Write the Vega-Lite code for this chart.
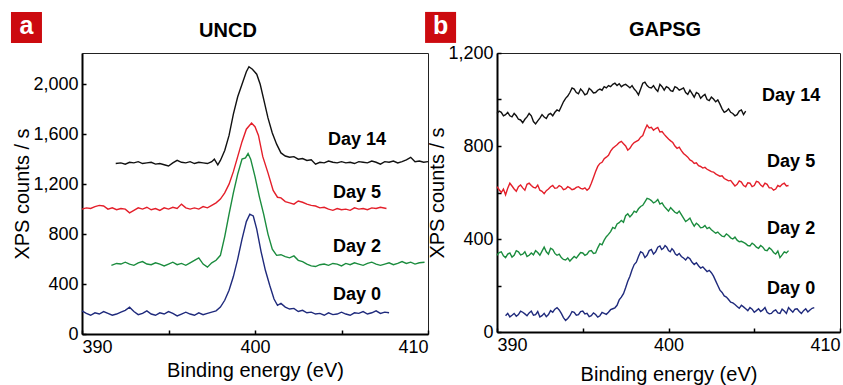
{
  "$schema": "https://vega.github.io/schema/vega-lite/v6.json",
  "padding": {"left": 10, "top": 11, "right": 3, "bottom": 2},
  "background": "white",
  "bounds": "flush",
  "spacing": 69,
  "config": {
    "font": "Liberation Sans",
    "view": {"stroke": "#222", "strokeWidth": 1},
    "axis": {
      "labelFont": "Liberation Sans", "labelFontSize": 18, "labelColor": "#000",
      "titleFont": "Liberation Sans", "titleFontSize": 20, "titleFontWeight": "normal", "titleColor": "#000",
      "domainColor": "#000", "domainWidth": 2, "tickColor": "#000", "tickWidth": 1.5, "tickSize": -4,
      "grid": false, "labelPadding": 8
    }
  },
  "datasets": {
    "labelsA": [
      {"s": "Day 14", "e": 405.9, "v": 1552},
      {"s": "Day 5", "e": 405.9, "v": 1128},
      {"s": "Day 2", "e": 405.9, "v": 696},
      {"s": "Day 0", "e": 405.9, "v": 312}
    ],
    "labelsB": [
      {"s": "Day 14", "e": 407.15, "v": 1015},
      {"s": "Day 5", "e": 407.15, "v": 731},
      {"s": "Day 2", "e": 407.15, "v": 443},
      {"s": "Day 0", "e": 407.15, "v": 185}
    ],
    "curvesA": [
      {"s":"Day 0","e":390.0,"v":185},{"s":"Day 0","e":390.25,"v":165},{"s":"Day 0","e":390.5,"v":150},{"s":"Day 0","e":390.75,"v":170},
      {"s":"Day 0","e":391.0,"v":160},{"s":"Day 0","e":391.25,"v":180},{"s":"Day 0","e":391.5,"v":165},{"s":"Day 0","e":391.75,"v":150},
      {"s":"Day 0","e":392.0,"v":160},{"s":"Day 0","e":392.25,"v":175},{"s":"Day 0","e":392.5,"v":190},{"s":"Day 0","e":392.75,"v":215},
      {"s":"Day 0","e":393.0,"v":180},{"s":"Day 0","e":393.25,"v":155},{"s":"Day 0","e":393.5,"v":165},{"s":"Day 0","e":393.75,"v":185},
      {"s":"Day 0","e":394.0,"v":160},{"s":"Day 0","e":394.25,"v":150},{"s":"Day 0","e":394.5,"v":170},{"s":"Day 0","e":394.75,"v":160},
      {"s":"Day 0","e":395.0,"v":180},{"s":"Day 0","e":395.25,"v":165},{"s":"Day 0","e":395.5,"v":145},{"s":"Day 0","e":395.75,"v":160},
      {"s":"Day 0","e":396.0,"v":175},{"s":"Day 0","e":396.25,"v":160},{"s":"Day 0","e":396.5,"v":150},{"s":"Day 0","e":396.75,"v":170},
      {"s":"Day 0","e":397.0,"v":155},{"s":"Day 0","e":397.25,"v":165},{"s":"Day 0","e":397.5,"v":175},{"s":"Day 0","e":397.75,"v":185},
      {"s":"Day 0","e":398.0,"v":215},{"s":"Day 0","e":398.25,"v":270},{"s":"Day 0","e":398.5,"v":350},{"s":"Day 0","e":398.75,"v":460},
      {"s":"Day 0","e":399.0,"v":600},{"s":"Day 0","e":399.25,"v":760},{"s":"Day 0","e":399.5,"v":900},{"s":"Day 0","e":399.7,"v":960},
      {"s":"Day 0","e":399.9,"v":945},{"s":"Day 0","e":400.1,"v":840},{"s":"Day 0","e":400.35,"v":660},{"s":"Day 0","e":400.6,"v":510},
      {"s":"Day 0","e":400.85,"v":390},{"s":"Day 0","e":401.1,"v":280},{"s":"Day 0","e":401.3,"v":230},{"s":"Day 0","e":401.5,"v":245},
      {"s":"Day 0","e":401.75,"v":215},{"s":"Day 0","e":402.0,"v":200},{"s":"Day 0","e":402.25,"v":205},{"s":"Day 0","e":402.5,"v":180},
      {"s":"Day 0","e":402.75,"v":190},{"s":"Day 0","e":403.0,"v":170},{"s":"Day 0","e":403.25,"v":175},{"s":"Day 0","e":403.5,"v":160},
      {"s":"Day 0","e":403.75,"v":165},{"s":"Day 0","e":404.0,"v":150},{"s":"Day 0","e":404.25,"v":170},{"s":"Day 0","e":404.5,"v":155},
      {"s":"Day 0","e":404.75,"v":160},{"s":"Day 0","e":405.0,"v":175},{"s":"Day 0","e":405.25,"v":160},{"s":"Day 0","e":405.5,"v":150},
      {"s":"Day 0","e":405.75,"v":170},{"s":"Day 0","e":406.0,"v":165},{"s":"Day 0","e":406.25,"v":180},{"s":"Day 0","e":406.5,"v":160},
      {"s":"Day 0","e":406.75,"v":170},{"s":"Day 0","e":407.0,"v":185},{"s":"Day 0","e":407.25,"v":165},{"s":"Day 0","e":407.5,"v":175},
      {"s":"Day 0","e":407.75,"v":170},

      {"s":"Day 2","e":391.7,"v":550},{"s":"Day 2","e":392.0,"v":565},{"s":"Day 2","e":392.25,"v":560},{"s":"Day 2","e":392.5,"v":575},
      {"s":"Day 2","e":392.75,"v":560},{"s":"Day 2","e":393.0,"v":550},{"s":"Day 2","e":393.25,"v":570},{"s":"Day 2","e":393.5,"v":580},
      {"s":"Day 2","e":393.75,"v":560},{"s":"Day 2","e":394.0,"v":555},{"s":"Day 2","e":394.25,"v":570},{"s":"Day 2","e":394.5,"v":560},
      {"s":"Day 2","e":394.75,"v":545},{"s":"Day 2","e":395.0,"v":560},{"s":"Day 2","e":395.25,"v":575},{"s":"Day 2","e":395.5,"v":555},
      {"s":"Day 2","e":395.75,"v":565},{"s":"Day 2","e":396.0,"v":550},{"s":"Day 2","e":396.25,"v":570},{"s":"Day 2","e":396.5,"v":590},
      {"s":"Day 2","e":396.75,"v":610},{"s":"Day 2","e":397.0,"v":560},{"s":"Day 2","e":397.25,"v":535},{"s":"Day 2","e":397.5,"v":570},
      {"s":"Day 2","e":397.75,"v":590},{"s":"Day 2","e":398.0,"v":630},{"s":"Day 2","e":398.25,"v":780},{"s":"Day 2","e":398.5,"v":960},
      {"s":"Day 2","e":398.75,"v":1130},{"s":"Day 2","e":399.0,"v":1280},{"s":"Day 2","e":399.25,"v":1400},{"s":"Day 2","e":399.45,"v":1410},
      {"s":"Day 2","e":399.6,"v":1445},{"s":"Day 2","e":399.75,"v":1400},{"s":"Day 2","e":400.0,"v":1260},{"s":"Day 2","e":400.25,"v":1100},
      {"s":"Day 2","e":400.5,"v":960},{"s":"Day 2","e":400.75,"v":800},{"s":"Day 2","e":401.0,"v":680},{"s":"Day 2","e":401.25,"v":630},
      {"s":"Day 2","e":401.5,"v":635},{"s":"Day 2","e":401.75,"v":620},{"s":"Day 2","e":402.0,"v":610},{"s":"Day 2","e":402.25,"v":625},
      {"s":"Day 2","e":402.5,"v":590},{"s":"Day 2","e":402.75,"v":580},{"s":"Day 2","e":403.0,"v":560},{"s":"Day 2","e":403.25,"v":545},
      {"s":"Day 2","e":403.5,"v":540},{"s":"Day 2","e":403.75,"v":555},{"s":"Day 2","e":404.0,"v":560},{"s":"Day 2","e":404.25,"v":550},
      {"s":"Day 2","e":404.5,"v":565},{"s":"Day 2","e":404.75,"v":560},{"s":"Day 2","e":405.0,"v":545},{"s":"Day 2","e":405.25,"v":565},
      {"s":"Day 2","e":405.5,"v":555},{"s":"Day 2","e":405.75,"v":570},{"s":"Day 2","e":406.0,"v":560},{"s":"Day 2","e":406.25,"v":550},
      {"s":"Day 2","e":406.5,"v":565},{"s":"Day 2","e":406.75,"v":575},{"s":"Day 2","e":407.0,"v":560},{"s":"Day 2","e":407.25,"v":550},
      {"s":"Day 2","e":407.5,"v":560},{"s":"Day 2","e":407.75,"v":570},{"s":"Day 2","e":408.0,"v":555},{"s":"Day 2","e":408.25,"v":565},
      {"s":"Day 2","e":408.5,"v":580},{"s":"Day 2","e":408.75,"v":565},{"s":"Day 2","e":409.0,"v":575},{"s":"Day 2","e":409.25,"v":560},
      {"s":"Day 2","e":409.5,"v":570},{"s":"Day 2","e":409.8,"v":575},

      {"s":"Day 5","e":390.0,"v":1000},{"s":"Day 5","e":390.25,"v":1010},{"s":"Day 5","e":390.5,"v":1005},{"s":"Day 5","e":390.75,"v":1020},
      {"s":"Day 5","e":391.0,"v":1030},{"s":"Day 5","e":391.25,"v":1025},{"s":"Day 5","e":391.5,"v":1000},{"s":"Day 5","e":391.75,"v":1010},
      {"s":"Day 5","e":392.0,"v":995},{"s":"Day 5","e":392.25,"v":1005},{"s":"Day 5","e":392.5,"v":1000},{"s":"Day 5","e":392.75,"v":970},
      {"s":"Day 5","e":393.0,"v":990},{"s":"Day 5","e":393.25,"v":1010},{"s":"Day 5","e":393.5,"v":1000},{"s":"Day 5","e":393.75,"v":1015},
      {"s":"Day 5","e":394.0,"v":995},{"s":"Day 5","e":394.25,"v":1005},{"s":"Day 5","e":394.5,"v":990},{"s":"Day 5","e":394.75,"v":1010},
      {"s":"Day 5","e":395.0,"v":1000},{"s":"Day 5","e":395.25,"v":1015},{"s":"Day 5","e":395.5,"v":1005},{"s":"Day 5","e":395.75,"v":1040},
      {"s":"Day 5","e":396.0,"v":1010},{"s":"Day 5","e":396.25,"v":1000},{"s":"Day 5","e":396.5,"v":1010},{"s":"Day 5","e":396.75,"v":1000},
      {"s":"Day 5","e":397.0,"v":1020},{"s":"Day 5","e":397.25,"v":1010},{"s":"Day 5","e":397.5,"v":1030},{"s":"Day 5","e":397.75,"v":1050},
      {"s":"Day 5","e":398.0,"v":1080},{"s":"Day 5","e":398.25,"v":1130},{"s":"Day 5","e":398.5,"v":1200},{"s":"Day 5","e":398.75,"v":1300},
      {"s":"Day 5","e":399.0,"v":1420},{"s":"Day 5","e":399.25,"v":1540},{"s":"Day 5","e":399.5,"v":1640},{"s":"Day 5","e":399.8,"v":1690},
      {"s":"Day 5","e":400.0,"v":1660},{"s":"Day 5","e":400.2,"v":1590},{"s":"Day 5","e":400.45,"v":1420},{"s":"Day 5","e":400.75,"v":1290},
      {"s":"Day 5","e":401.05,"v":1150},{"s":"Day 5","e":401.3,"v":1095},{"s":"Day 5","e":401.5,"v":1090},{"s":"Day 5","e":401.75,"v":1060},
      {"s":"Day 5","e":402.0,"v":1050},{"s":"Day 5","e":402.25,"v":1040},{"s":"Day 5","e":402.5,"v":1065},{"s":"Day 5","e":402.75,"v":1055},
      {"s":"Day 5","e":403.0,"v":1040},{"s":"Day 5","e":403.25,"v":1030},{"s":"Day 5","e":403.5,"v":1025},{"s":"Day 5","e":403.75,"v":1010},
      {"s":"Day 5","e":404.0,"v":1015},{"s":"Day 5","e":404.25,"v":1000},{"s":"Day 5","e":404.5,"v":990},{"s":"Day 5","e":404.75,"v":1005},
      {"s":"Day 5","e":405.0,"v":995},{"s":"Day 5","e":405.25,"v":1000},{"s":"Day 5","e":405.5,"v":990},{"s":"Day 5","e":405.75,"v":1010},
      {"s":"Day 5","e":406.0,"v":1000},{"s":"Day 5","e":406.25,"v":1005},{"s":"Day 5","e":406.5,"v":995},{"s":"Day 5","e":406.75,"v":1010},
      {"s":"Day 5","e":407.0,"v":1005},{"s":"Day 5","e":407.25,"v":1015},{"s":"Day 5","e":407.6,"v":1005},

      {"s":"Day 14","e":391.95,"v":1365},{"s":"Day 14","e":392.25,"v":1370},{"s":"Day 14","e":392.5,"v":1360},{"s":"Day 14","e":392.75,"v":1375},
      {"s":"Day 14","e":393.0,"v":1370},{"s":"Day 14","e":393.25,"v":1380},{"s":"Day 14","e":393.5,"v":1365},{"s":"Day 14","e":393.75,"v":1370},
      {"s":"Day 14","e":394.0,"v":1375},{"s":"Day 14","e":394.25,"v":1360},{"s":"Day 14","e":394.5,"v":1365},{"s":"Day 14","e":394.75,"v":1355},
      {"s":"Day 14","e":395.0,"v":1345},{"s":"Day 14","e":395.25,"v":1370},{"s":"Day 14","e":395.5,"v":1390},{"s":"Day 14","e":395.75,"v":1375},
      {"s":"Day 14","e":396.0,"v":1370},{"s":"Day 14","e":396.25,"v":1380},{"s":"Day 14","e":396.5,"v":1365},{"s":"Day 14","e":396.75,"v":1375},
      {"s":"Day 14","e":397.0,"v":1370},{"s":"Day 14","e":397.25,"v":1365},{"s":"Day 14","e":397.5,"v":1380},{"s":"Day 14","e":397.65,"v":1400},
      {"s":"Day 14","e":397.85,"v":1355},{"s":"Day 14","e":398.0,"v":1390},{"s":"Day 14","e":398.25,"v":1470},{"s":"Day 14","e":398.5,"v":1590},
      {"s":"Day 14","e":398.75,"v":1760},{"s":"Day 14","e":399.0,"v":1900},{"s":"Day 14","e":399.25,"v":2000},{"s":"Day 14","e":399.5,"v":2100},
      {"s":"Day 14","e":399.65,"v":2140},{"s":"Day 14","e":399.85,"v":2120},{"s":"Day 14","e":400.1,"v":2080},{"s":"Day 14","e":400.3,"v":2000},
      {"s":"Day 14","e":400.5,"v":1880},{"s":"Day 14","e":400.75,"v":1730},{"s":"Day 14","e":401.0,"v":1610},{"s":"Day 14","e":401.25,"v":1520},
      {"s":"Day 14","e":401.5,"v":1450},{"s":"Day 14","e":401.75,"v":1425},{"s":"Day 14","e":402.0,"v":1415},{"s":"Day 14","e":402.25,"v":1420},
      {"s":"Day 14","e":402.5,"v":1400},{"s":"Day 14","e":402.75,"v":1405},{"s":"Day 14","e":403.0,"v":1390},{"s":"Day 14","e":403.25,"v":1395},
      {"s":"Day 14","e":403.5,"v":1360},{"s":"Day 14","e":403.75,"v":1375},{"s":"Day 14","e":404.0,"v":1370},{"s":"Day 14","e":404.25,"v":1385},
      {"s":"Day 14","e":404.5,"v":1375},{"s":"Day 14","e":404.75,"v":1370},{"s":"Day 14","e":405.0,"v":1380},{"s":"Day 14","e":405.25,"v":1370},
      {"s":"Day 14","e":405.5,"v":1375},{"s":"Day 14","e":405.75,"v":1365},{"s":"Day 14","e":406.0,"v":1380},{"s":"Day 14","e":406.25,"v":1375},
      {"s":"Day 14","e":406.5,"v":1370},{"s":"Day 14","e":406.75,"v":1385},{"s":"Day 14","e":407.0,"v":1375},{"s":"Day 14","e":407.25,"v":1360},
      {"s":"Day 14","e":407.5,"v":1380},{"s":"Day 14","e":407.75,"v":1375},{"s":"Day 14","e":408.0,"v":1385},{"s":"Day 14","e":408.25,"v":1370},
      {"s":"Day 14","e":408.5,"v":1380},{"s":"Day 14","e":408.75,"v":1395},{"s":"Day 14","e":409.0,"v":1415},{"s":"Day 14","e":409.25,"v":1380},
      {"s":"Day 14","e":409.5,"v":1385},{"s":"Day 14","e":409.75,"v":1375},{"s":"Day 14","e":410.0,"v":1380}
    ],
    "curvesB": [
      {"s":"Day 0","e":390.5,"v":70},{"s":"Day 0","e":390.625,"v":80},{"s":"Day 0","e":390.75,"v":65},{"s":"Day 0","e":390.875,"v":72},
      {"s":"Day 0","e":391.0,"v":80},{"s":"Day 0","e":391.125,"v":68},{"s":"Day 0","e":391.25,"v":75},{"s":"Day 0","e":391.375,"v":90},
      {"s":"Day 0","e":391.5,"v":85},{"s":"Day 0","e":391.625,"v":78},{"s":"Day 0","e":391.75,"v":70},{"s":"Day 0","e":391.875,"v":82},
      {"s":"Day 0","e":392.0,"v":90},{"s":"Day 0","e":392.125,"v":72},{"s":"Day 0","e":392.25,"v":75},{"s":"Day 0","e":392.375,"v":88},
      {"s":"Day 0","e":392.5,"v":65},{"s":"Day 0","e":392.625,"v":70},{"s":"Day 0","e":392.75,"v":80},{"s":"Day 0","e":392.875,"v":66},
      {"s":"Day 0","e":393.0,"v":75},{"s":"Day 0","e":393.125,"v":92},{"s":"Day 0","e":393.25,"v":85},{"s":"Day 0","e":393.375,"v":98},
      {"s":"Day 0","e":393.5,"v":105},{"s":"Day 0","e":393.625,"v":95},{"s":"Day 0","e":393.75,"v":80},{"s":"Day 0","e":393.875,"v":62},
      {"s":"Day 0","e":394.0,"v":50},{"s":"Day 0","e":394.125,"v":58},{"s":"Day 0","e":394.25,"v":70},{"s":"Day 0","e":394.375,"v":88},
      {"s":"Day 0","e":394.5,"v":85},{"s":"Day 0","e":394.625,"v":72},{"s":"Day 0","e":394.75,"v":75},{"s":"Day 0","e":394.875,"v":88},
      {"s":"Day 0","e":395.0,"v":90},{"s":"Day 0","e":395.125,"v":78},{"s":"Day 0","e":395.25,"v":80},{"s":"Day 0","e":395.375,"v":66},
      {"s":"Day 0","e":395.5,"v":70},{"s":"Day 0","e":395.625,"v":82},{"s":"Day 0","e":395.75,"v":75},{"s":"Day 0","e":395.875,"v":64},
      {"s":"Day 0","e":396.0,"v":70},{"s":"Day 0","e":396.125,"v":84},{"s":"Day 0","e":396.25,"v":80},{"s":"Day 0","e":396.375,"v":76},
      {"s":"Day 0","e":396.5,"v":85},{"s":"Day 0","e":396.625,"v":96},{"s":"Day 0","e":396.75,"v":100},{"s":"Day 0","e":396.875,"v":104},
      {"s":"Day 0","e":397.0,"v":115},{"s":"Day 0","e":397.125,"v":138},{"s":"Day 0","e":397.25,"v":150},{"s":"Day 0","e":397.375,"v":165},
      {"s":"Day 0","e":397.5,"v":190},{"s":"Day 0","e":397.625,"v":218},{"s":"Day 0","e":397.75,"v":240},{"s":"Day 0","e":397.875,"v":268},
      {"s":"Day 0","e":398.0,"v":290},{"s":"Day 0","e":398.125,"v":300},{"s":"Day 0","e":398.25,"v":325},{"s":"Day 0","e":398.375,"v":345},
      {"s":"Day 0","e":398.5,"v":340},{"s":"Day 0","e":398.625,"v":320},{"s":"Day 0","e":398.75,"v":330},{"s":"Day 0","e":398.875,"v":350},
      {"s":"Day 0","e":399.0,"v":355},{"s":"Day 0","e":399.125,"v":335},{"s":"Day 0","e":399.25,"v":345},{"s":"Day 0","e":399.375,"v":365},
      {"s":"Day 0","e":399.5,"v":370},{"s":"Day 0","e":399.6,"v":355},{"s":"Day 0","e":399.7,"v":360},{"s":"Day 0","e":399.8,"v":372},
      {"s":"Day 0","e":399.9,"v":365},{"s":"Day 0","e":400.0,"v":350},{"s":"Day 0","e":400.1,"v":345},{"s":"Day 0","e":400.2,"v":358},
      {"s":"Day 0","e":400.3,"v":350},{"s":"Day 0","e":400.4,"v":335},{"s":"Day 0","e":400.5,"v":330},{"s":"Day 0","e":400.625,"v":338},
      {"s":"Day 0","e":400.75,"v":325},{"s":"Day 0","e":400.875,"v":318},{"s":"Day 0","e":401.0,"v":310},{"s":"Day 0","e":401.125,"v":322},
      {"s":"Day 0","e":401.25,"v":315},{"s":"Day 0","e":401.375,"v":300},{"s":"Day 0","e":401.5,"v":290},{"s":"Day 0","e":401.625,"v":298},
      {"s":"Day 0","e":401.75,"v":285},{"s":"Day 0","e":401.875,"v":275},{"s":"Day 0","e":402.0,"v":280},{"s":"Day 0","e":402.125,"v":270},
      {"s":"Day 0","e":402.25,"v":260},{"s":"Day 0","e":402.375,"v":265},{"s":"Day 0","e":402.5,"v":255},{"s":"Day 0","e":402.625,"v":240},
      {"s":"Day 0","e":402.75,"v":220},{"s":"Day 0","e":402.875,"v":200},{"s":"Day 0","e":403.0,"v":180},{"s":"Day 0","e":403.125,"v":170},
      {"s":"Day 0","e":403.25,"v":155},{"s":"Day 0","e":403.375,"v":150},{"s":"Day 0","e":403.5,"v":140},{"s":"Day 0","e":403.625,"v":128},
      {"s":"Day 0","e":403.75,"v":125},{"s":"Day 0","e":403.875,"v":118},{"s":"Day 0","e":404.0,"v":110},{"s":"Day 0","e":404.125,"v":102},
      {"s":"Day 0","e":404.25,"v":115},{"s":"Day 0","e":404.375,"v":108},{"s":"Day 0","e":404.5,"v":100},{"s":"Day 0","e":404.625,"v":92},
      {"s":"Day 0","e":404.75,"v":105},{"s":"Day 0","e":404.875,"v":98},{"s":"Day 0","e":405.0,"v":85},{"s":"Day 0","e":405.125,"v":92},
      {"s":"Day 0","e":405.25,"v":100},{"s":"Day 0","e":405.375,"v":88},{"s":"Day 0","e":405.5,"v":95},{"s":"Day 0","e":405.625,"v":105},
      {"s":"Day 0","e":405.75,"v":85},{"s":"Day 0","e":405.875,"v":78},{"s":"Day 0","e":406.0,"v":80},{"s":"Day 0","e":406.125,"v":90},
      {"s":"Day 0","e":406.25,"v":95},{"s":"Day 0","e":406.375,"v":82},{"s":"Day 0","e":406.5,"v":80},{"s":"Day 0","e":406.625,"v":98},
      {"s":"Day 0","e":406.75,"v":90},{"s":"Day 0","e":406.875,"v":80},{"s":"Day 0","e":407.0,"v":105},{"s":"Day 0","e":407.125,"v":95},
      {"s":"Day 0","e":407.25,"v":85},{"s":"Day 0","e":407.375,"v":98},{"s":"Day 0","e":407.5,"v":100},{"s":"Day 0","e":407.625,"v":88},
      {"s":"Day 0","e":407.75,"v":80},{"s":"Day 0","e":407.875,"v":92},{"s":"Day 0","e":408.0,"v":100},{"s":"Day 0","e":408.125,"v":86},
      {"s":"Day 0","e":408.25,"v":95},{"s":"Day 0","e":408.375,"v":102},{"s":"Day 0","e":408.5,"v":105},

      {"s":"Day 2","e":390.0,"v":330},{"s":"Day 2","e":390.125,"v":342},{"s":"Day 2","e":390.25,"v":345},{"s":"Day 2","e":390.375,"v":328},
      {"s":"Day 2","e":390.5,"v":320},{"s":"Day 2","e":390.625,"v":335},{"s":"Day 2","e":390.75,"v":340},{"s":"Day 2","e":390.875,"v":322},
      {"s":"Day 2","e":391.0,"v":330},{"s":"Day 2","e":391.125,"v":350},{"s":"Day 2","e":391.25,"v":345},{"s":"Day 2","e":391.375,"v":332},
      {"s":"Day 2","e":391.5,"v":335},{"s":"Day 2","e":391.625,"v":345},{"s":"Day 2","e":391.75,"v":325},{"s":"Day 2","e":391.875,"v":330},
      {"s":"Day 2","e":392.0,"v":340},{"s":"Day 2","e":392.125,"v":332},{"s":"Day 2","e":392.25,"v":350},{"s":"Day 2","e":392.375,"v":342},
      {"s":"Day 2","e":392.5,"v":330},{"s":"Day 2","e":392.625,"v":348},{"s":"Day 2","e":392.75,"v":365},{"s":"Day 2","e":392.875,"v":345},
      {"s":"Day 2","e":393.0,"v":335},{"s":"Day 2","e":393.125,"v":360},{"s":"Day 2","e":393.25,"v":355},{"s":"Day 2","e":393.375,"v":338},
      {"s":"Day 2","e":393.5,"v":330},{"s":"Day 2","e":393.625,"v":335},{"s":"Day 2","e":393.75,"v":320},{"s":"Day 2","e":393.875,"v":312},
      {"s":"Day 2","e":394.0,"v":310},{"s":"Day 2","e":394.125,"v":318},{"s":"Day 2","e":394.25,"v":305},{"s":"Day 2","e":394.375,"v":315},
      {"s":"Day 2","e":394.5,"v":325},{"s":"Day 2","e":394.625,"v":318},{"s":"Day 2","e":394.75,"v":330},{"s":"Day 2","e":394.875,"v":342},
      {"s":"Day 2","e":395.0,"v":340},{"s":"Day 2","e":395.125,"v":330},{"s":"Day 2","e":395.25,"v":335},{"s":"Day 2","e":395.375,"v":348},
      {"s":"Day 2","e":395.5,"v":350},{"s":"Day 2","e":395.625,"v":338},{"s":"Day 2","e":395.75,"v":340},{"s":"Day 2","e":395.875,"v":362},
      {"s":"Day 2","e":396.0,"v":380},{"s":"Day 2","e":396.125,"v":375},{"s":"Day 2","e":396.25,"v":395},{"s":"Day 2","e":396.375,"v":410},
      {"s":"Day 2","e":396.5,"v":420},{"s":"Day 2","e":396.625,"v":432},{"s":"Day 2","e":396.75,"v":450},{"s":"Day 2","e":396.875,"v":445},
      {"s":"Day 2","e":397.0,"v":465},{"s":"Day 2","e":397.125,"v":470},{"s":"Day 2","e":397.25,"v":480},{"s":"Day 2","e":397.375,"v":472},
      {"s":"Day 2","e":397.5,"v":500},{"s":"Day 2","e":397.625,"v":508},{"s":"Day 2","e":397.75,"v":495},{"s":"Day 2","e":397.875,"v":505},
      {"s":"Day 2","e":398.0,"v":520},{"s":"Day 2","e":398.125,"v":515},{"s":"Day 2","e":398.25,"v":530},{"s":"Day 2","e":398.375,"v":540},
      {"s":"Day 2","e":398.5,"v":545},{"s":"Day 2","e":398.625,"v":560},{"s":"Day 2","e":398.75,"v":575},{"s":"Day 2","e":398.875,"v":572},
      {"s":"Day 2","e":399.0,"v":565},{"s":"Day 2","e":399.125,"v":555},{"s":"Day 2","e":399.25,"v":560},{"s":"Day 2","e":399.375,"v":570},
      {"s":"Day 2","e":399.5,"v":550},{"s":"Day 2","e":399.625,"v":555},{"s":"Day 2","e":399.75,"v":540},{"s":"Day 2","e":399.875,"v":530},
      {"s":"Day 2","e":400.0,"v":520},{"s":"Day 2","e":400.125,"v":535},{"s":"Day 2","e":400.25,"v":525},{"s":"Day 2","e":400.375,"v":515},
      {"s":"Day 2","e":400.5,"v":510},{"s":"Day 2","e":400.625,"v":520},{"s":"Day 2","e":400.75,"v":505},{"s":"Day 2","e":400.875,"v":490},
      {"s":"Day 2","e":401.0,"v":475},{"s":"Day 2","e":401.125,"v":482},{"s":"Day 2","e":401.25,"v":490},{"s":"Day 2","e":401.375,"v":470},
      {"s":"Day 2","e":401.5,"v":455},{"s":"Day 2","e":401.625,"v":468},{"s":"Day 2","e":401.75,"v":460},{"s":"Day 2","e":401.875,"v":448},
      {"s":"Day 2","e":402.0,"v":450},{"s":"Day 2","e":402.125,"v":458},{"s":"Day 2","e":402.25,"v":445},{"s":"Day 2","e":402.375,"v":450},
      {"s":"Day 2","e":402.5,"v":440},{"s":"Day 2","e":402.625,"v":432},{"s":"Day 2","e":402.75,"v":425},{"s":"Day 2","e":402.875,"v":430},
      {"s":"Day 2","e":403.0,"v":420},{"s":"Day 2","e":403.125,"v":412},{"s":"Day 2","e":403.25,"v":410},{"s":"Day 2","e":403.375,"v":422},
      {"s":"Day 2","e":403.5,"v":415},{"s":"Day 2","e":403.625,"v":405},{"s":"Day 2","e":403.75,"v":400},{"s":"Day 2","e":403.875,"v":408},
      {"s":"Day 2","e":404.0,"v":395},{"s":"Day 2","e":404.125,"v":388},{"s":"Day 2","e":404.25,"v":390},{"s":"Day 2","e":404.375,"v":385},
      {"s":"Day 2","e":404.5,"v":380},{"s":"Day 2","e":404.625,"v":372},{"s":"Day 2","e":404.75,"v":370},{"s":"Day 2","e":404.875,"v":382},
      {"s":"Day 2","e":405.0,"v":375},{"s":"Day 2","e":405.125,"v":365},{"s":"Day 2","e":405.25,"v":360},{"s":"Day 2","e":405.375,"v":372},
      {"s":"Day 2","e":405.5,"v":365},{"s":"Day 2","e":405.625,"v":352},{"s":"Day 2","e":405.75,"v":350},{"s":"Day 2","e":405.875,"v":362},
      {"s":"Day 2","e":406.0,"v":355},{"s":"Day 2","e":406.125,"v":342},{"s":"Day 2","e":406.25,"v":335},{"s":"Day 2","e":406.375,"v":348},
      {"s":"Day 2","e":406.5,"v":320},{"s":"Day 2","e":406.625,"v":332},{"s":"Day 2","e":406.75,"v":345},{"s":"Day 2","e":406.875,"v":340},
      {"s":"Day 2","e":407.0,"v":350},

      {"s":"Day 5","e":390.0,"v":625},{"s":"Day 5","e":390.125,"v":612},{"s":"Day 5","e":390.25,"v":600},{"s":"Day 5","e":390.375,"v":615},
      {"s":"Day 5","e":390.5,"v":590},{"s":"Day 5","e":390.625,"v":618},{"s":"Day 5","e":390.75,"v":640},{"s":"Day 5","e":390.875,"v":628},
      {"s":"Day 5","e":391.0,"v":615},{"s":"Day 5","e":391.125,"v":605},{"s":"Day 5","e":391.25,"v":625},{"s":"Day 5","e":391.375,"v":632},
      {"s":"Day 5","e":391.5,"v":620},{"s":"Day 5","e":391.625,"v":610},{"s":"Day 5","e":391.75,"v":635},{"s":"Day 5","e":391.875,"v":640},
      {"s":"Day 5","e":392.0,"v":630},{"s":"Day 5","e":392.125,"v":622},{"s":"Day 5","e":392.25,"v":620},{"s":"Day 5","e":392.375,"v":632},
      {"s":"Day 5","e":392.5,"v":610},{"s":"Day 5","e":392.625,"v":605},{"s":"Day 5","e":392.75,"v":595},{"s":"Day 5","e":392.875,"v":608},
      {"s":"Day 5","e":393.0,"v":615},{"s":"Day 5","e":393.125,"v":625},{"s":"Day 5","e":393.25,"v":630},{"s":"Day 5","e":393.375,"v":618},
      {"s":"Day 5","e":393.5,"v":620},{"s":"Day 5","e":393.625,"v":630},{"s":"Day 5","e":393.75,"v":625},{"s":"Day 5","e":393.875,"v":612},
      {"s":"Day 5","e":394.0,"v":615},{"s":"Day 5","e":394.125,"v":625},{"s":"Day 5","e":394.25,"v":620},{"s":"Day 5","e":394.375,"v":612},
      {"s":"Day 5","e":394.5,"v":615},{"s":"Day 5","e":394.625,"v":622},{"s":"Day 5","e":394.75,"v":625},{"s":"Day 5","e":394.875,"v":618},
      {"s":"Day 5","e":395.0,"v":615},{"s":"Day 5","e":395.125,"v":620},{"s":"Day 5","e":395.25,"v":610},{"s":"Day 5","e":395.375,"v":618},
      {"s":"Day 5","e":395.5,"v":640},{"s":"Day 5","e":395.625,"v":665},{"s":"Day 5","e":395.75,"v":690},{"s":"Day 5","e":395.875,"v":712},
      {"s":"Day 5","e":396.0,"v":725},{"s":"Day 5","e":396.125,"v":730},{"s":"Day 5","e":396.25,"v":745},{"s":"Day 5","e":396.375,"v":752},
      {"s":"Day 5","e":396.5,"v":760},{"s":"Day 5","e":396.625,"v":778},{"s":"Day 5","e":396.75,"v":790},{"s":"Day 5","e":396.875,"v":798},
      {"s":"Day 5","e":397.0,"v":805},{"s":"Day 5","e":397.125,"v":815},{"s":"Day 5","e":397.25,"v":820},{"s":"Day 5","e":397.375,"v":810},
      {"s":"Day 5","e":397.5,"v":800},{"s":"Day 5","e":397.625,"v":782},{"s":"Day 5","e":397.75,"v":790},{"s":"Day 5","e":397.875,"v":805},
      {"s":"Day 5","e":398.0,"v":815},{"s":"Day 5","e":398.125,"v":820},{"s":"Day 5","e":398.25,"v":825},{"s":"Day 5","e":398.375,"v":838},
      {"s":"Day 5","e":398.5,"v":845},{"s":"Day 5","e":398.625,"v":870},{"s":"Day 5","e":398.75,"v":890},{"s":"Day 5","e":398.875,"v":878},
      {"s":"Day 5","e":399.0,"v":880},{"s":"Day 5","e":399.125,"v":868},{"s":"Day 5","e":399.25,"v":875},{"s":"Day 5","e":399.375,"v":880},
      {"s":"Day 5","e":399.5,"v":860},{"s":"Day 5","e":399.625,"v":862},{"s":"Day 5","e":399.75,"v":850},{"s":"Day 5","e":399.875,"v":840},
      {"s":"Day 5","e":400.0,"v":830},{"s":"Day 5","e":400.125,"v":822},{"s":"Day 5","e":400.25,"v":815},{"s":"Day 5","e":400.375,"v":800},
      {"s":"Day 5","e":400.5,"v":790},{"s":"Day 5","e":400.625,"v":795},{"s":"Day 5","e":400.75,"v":780},{"s":"Day 5","e":400.875,"v":768},
      {"s":"Day 5","e":401.0,"v":760},{"s":"Day 5","e":401.125,"v":752},{"s":"Day 5","e":401.25,"v":740},{"s":"Day 5","e":401.375,"v":735},
      {"s":"Day 5","e":401.5,"v":725},{"s":"Day 5","e":401.625,"v":728},{"s":"Day 5","e":401.75,"v":715},{"s":"Day 5","e":401.875,"v":712},
      {"s":"Day 5","e":402.0,"v":705},{"s":"Day 5","e":402.125,"v":708},{"s":"Day 5","e":402.25,"v":700},{"s":"Day 5","e":402.375,"v":695},
      {"s":"Day 5","e":402.5,"v":690},{"s":"Day 5","e":402.625,"v":688},{"s":"Day 5","e":402.75,"v":680},{"s":"Day 5","e":402.875,"v":675},
      {"s":"Day 5","e":403.0,"v":670},{"s":"Day 5","e":403.125,"v":672},{"s":"Day 5","e":403.25,"v":660},{"s":"Day 5","e":403.375,"v":655},
      {"s":"Day 5","e":403.5,"v":650},{"s":"Day 5","e":403.625,"v":652},{"s":"Day 5","e":403.75,"v":640},{"s":"Day 5","e":403.875,"v":628},
      {"s":"Day 5","e":404.0,"v":635},{"s":"Day 5","e":404.125,"v":650},{"s":"Day 5","e":404.25,"v":645},{"s":"Day 5","e":404.375,"v":630},
      {"s":"Day 5","e":404.5,"v":625},{"s":"Day 5","e":404.625,"v":642},{"s":"Day 5","e":404.75,"v":640},{"s":"Day 5","e":404.875,"v":625},
      {"s":"Day 5","e":405.0,"v":630},{"s":"Day 5","e":405.125,"v":648},{"s":"Day 5","e":405.25,"v":645},{"s":"Day 5","e":405.375,"v":632},
      {"s":"Day 5","e":405.5,"v":625},{"s":"Day 5","e":405.625,"v":640},{"s":"Day 5","e":405.75,"v":635},{"s":"Day 5","e":405.875,"v":620},
      {"s":"Day 5","e":406.0,"v":620},{"s":"Day 5","e":406.125,"v":610},{"s":"Day 5","e":406.25,"v":615},{"s":"Day 5","e":406.375,"v":630},
      {"s":"Day 5","e":406.5,"v":625},{"s":"Day 5","e":406.625,"v":635},{"s":"Day 5","e":406.75,"v":640},{"s":"Day 5","e":406.875,"v":628},
      {"s":"Day 5","e":407.0,"v":630},

      {"s":"Day 14","e":390.0,"v":940},{"s":"Day 14","e":390.125,"v":950},{"s":"Day 14","e":390.25,"v":945},{"s":"Day 14","e":390.375,"v":930},
      {"s":"Day 14","e":390.5,"v":935},{"s":"Day 14","e":390.625,"v":945},{"s":"Day 14","e":390.75,"v":930},{"s":"Day 14","e":390.875,"v":925},
      {"s":"Day 14","e":391.0,"v":940},{"s":"Day 14","e":391.125,"v":930},{"s":"Day 14","e":391.25,"v":915},{"s":"Day 14","e":391.375,"v":912},
      {"s":"Day 14","e":391.5,"v":900},{"s":"Day 14","e":391.625,"v":915},{"s":"Day 14","e":391.75,"v":925},{"s":"Day 14","e":391.875,"v":940},
      {"s":"Day 14","e":392.0,"v":930},{"s":"Day 14","e":392.125,"v":905},{"s":"Day 14","e":392.25,"v":895},{"s":"Day 14","e":392.375,"v":908},
      {"s":"Day 14","e":392.5,"v":920},{"s":"Day 14","e":392.625,"v":935},{"s":"Day 14","e":392.75,"v":925},{"s":"Day 14","e":392.875,"v":918},
      {"s":"Day 14","e":393.0,"v":935},{"s":"Day 14","e":393.125,"v":940},{"s":"Day 14","e":393.25,"v":930},{"s":"Day 14","e":393.375,"v":945},
      {"s":"Day 14","e":393.5,"v":955},{"s":"Day 14","e":393.625,"v":950},{"s":"Day 14","e":393.75,"v":970},{"s":"Day 14","e":393.875,"v":990},
      {"s":"Day 14","e":394.0,"v":1005},{"s":"Day 14","e":394.125,"v":1015},{"s":"Day 14","e":394.25,"v":1030},{"s":"Day 14","e":394.375,"v":1050},
      {"s":"Day 14","e":394.5,"v":1045},{"s":"Day 14","e":394.625,"v":1030},{"s":"Day 14","e":394.75,"v":1025},{"s":"Day 14","e":394.875,"v":1045},
      {"s":"Day 14","e":395.0,"v":1035},{"s":"Day 14","e":395.125,"v":1020},{"s":"Day 14","e":395.25,"v":1025},{"s":"Day 14","e":395.375,"v":1048},
      {"s":"Day 14","e":395.5,"v":1040},{"s":"Day 14","e":395.625,"v":1028},{"s":"Day 14","e":395.75,"v":1030},{"s":"Day 14","e":395.875,"v":1040},
      {"s":"Day 14","e":396.0,"v":1045},{"s":"Day 14","e":396.125,"v":1040},{"s":"Day 14","e":396.25,"v":1055},{"s":"Day 14","e":396.375,"v":1050},
      {"s":"Day 14","e":396.5,"v":1060},{"s":"Day 14","e":396.625,"v":1055},{"s":"Day 14","e":396.75,"v":1065},{"s":"Day 14","e":396.875,"v":1070},
      {"s":"Day 14","e":397.0,"v":1060},{"s":"Day 14","e":397.125,"v":1068},{"s":"Day 14","e":397.25,"v":1055},{"s":"Day 14","e":397.375,"v":1062},
      {"s":"Day 14","e":397.5,"v":1065},{"s":"Day 14","e":397.625,"v":1058},{"s":"Day 14","e":397.75,"v":1050},{"s":"Day 14","e":397.875,"v":1060},
      {"s":"Day 14","e":398.0,"v":1045},{"s":"Day 14","e":398.125,"v":1035},{"s":"Day 14","e":398.25,"v":1020},{"s":"Day 14","e":398.375,"v":1045},
      {"s":"Day 14","e":398.5,"v":1070},{"s":"Day 14","e":398.625,"v":1075},{"s":"Day 14","e":398.75,"v":1060},{"s":"Day 14","e":398.875,"v":1052},
      {"s":"Day 14","e":399.0,"v":1050},{"s":"Day 14","e":399.125,"v":1060},{"s":"Day 14","e":399.25,"v":1045},{"s":"Day 14","e":399.375,"v":1035},
      {"s":"Day 14","e":399.5,"v":1065},{"s":"Day 14","e":399.625,"v":1055},{"s":"Day 14","e":399.75,"v":1040},{"s":"Day 14","e":399.875,"v":1055},
      {"s":"Day 14","e":400.0,"v":1050},{"s":"Day 14","e":400.125,"v":1038},{"s":"Day 14","e":400.25,"v":1035},{"s":"Day 14","e":400.375,"v":1055},
      {"s":"Day 14","e":400.5,"v":1050},{"s":"Day 14","e":400.625,"v":1040},{"s":"Day 14","e":400.75,"v":1045},{"s":"Day 14","e":400.875,"v":1050},
      {"s":"Day 14","e":401.0,"v":1030},{"s":"Day 14","e":401.125,"v":1022},{"s":"Day 14","e":401.25,"v":1040},{"s":"Day 14","e":401.375,"v":1025},
      {"s":"Day 14","e":401.5,"v":1010},{"s":"Day 14","e":401.625,"v":1030},{"s":"Day 14","e":401.75,"v":1025},{"s":"Day 14","e":401.875,"v":1005},
      {"s":"Day 14","e":402.0,"v":1015},{"s":"Day 14","e":402.125,"v":1022},{"s":"Day 14","e":402.25,"v":1000},{"s":"Day 14","e":402.375,"v":995},
      {"s":"Day 14","e":402.5,"v":1010},{"s":"Day 14","e":402.625,"v":1002},{"s":"Day 14","e":402.75,"v":990},{"s":"Day 14","e":402.875,"v":998},
      {"s":"Day 14","e":403.0,"v":980},{"s":"Day 14","e":403.125,"v":960},{"s":"Day 14","e":403.25,"v":945},{"s":"Day 14","e":403.375,"v":950},
      {"s":"Day 14","e":403.5,"v":960},{"s":"Day 14","e":403.625,"v":945},{"s":"Day 14","e":403.75,"v":940},{"s":"Day 14","e":403.875,"v":930},
      {"s":"Day 14","e":404.0,"v":935},{"s":"Day 14","e":404.125,"v":950},{"s":"Day 14","e":404.25,"v":955},{"s":"Day 14","e":404.375,"v":935},
      {"s":"Day 14","e":404.5,"v":950}
    ]
  },
  "hconcat": [
    {
      "width": 346,
      "height": 281,
      "layer": [
        {
          "data": {"name": "curvesA"},
          "mark": {"type": "line", "strokeWidth": 1.4},
          "encoding": {
            "x": {"field": "e", "type": "quantitative",
                  "scale": {"domain": [390, 410], "nice": false, "zero": false},
                  "axis": {"values": [390, 395, 400, 405, 410], "labelExpr": "datum.value % 10 === 0 ? datum.label : ''",
                           "labelFlush": true, "title": "Binding energy (eV)", "titlePadding": 4}},
            "y": {"field": "v", "type": "quantitative",
                  "scale": {"domain": [0, 2250], "nice": false},
                  "axis": {"values": [0, 200, 400, 600, 800, 1000, 1200, 1400, 1600, 1800, 2000, 2200],
                           "labelExpr": "datum.value % 400 === 0 ? format(datum.value, ',') : ''",
                           "title": "XPS counts / s", "titlePadding": 0}},
            "color": {"field": "s", "type": "nominal",
                      "scale": {"domain": ["Day 0", "Day 2", "Day 5", "Day 14"], "range": ["#1f2a7c", "#1b8c3e", "#e41f2a", "#111111"]},
                      "legend": null}
          }
        },
        {
          "data": {"name": "labelsA"},
          "mark": {"type": "text", "fontSize": 18, "fontWeight": "bold", "color": "#000", "align": "center", "baseline": "middle"},
          "encoding": {
            "x": {"field": "e", "type": "quantitative"},
            "y": {"field": "v", "type": "quantitative"},
            "text": {"field": "s"}
          }
        },
        {
          "data": {"values": [{"t": "UNCD", "e": 398.44, "v": 2426}]},
          "mark": {"type": "text", "fontSize": 20, "fontWeight": "bold", "color": "#000", "align": "center", "baseline": "middle", "clip": false},
          "encoding": {
            "x": {"field": "e", "type": "quantitative"},
            "y": {"field": "v", "type": "quantitative"},
            "text": {"field": "t"}
          }
        },
        {
          "data": {"values": [{"t": "a", "e": 386.79, "v": 2454}]},
          "mark": {"type": "point", "shape": "square", "size": 961, "filled": true, "color": "#cc0a0f", "opacity": 1, "strokeWidth": 0, "clip": false},
          "encoding": {
            "x": {"field": "e", "type": "quantitative"},
            "y": {"field": "v", "type": "quantitative"}
          }
        },
        {
          "data": {"values": [{"t": "a", "e": 386.79, "v": 2454}]},
          "mark": {"type": "text", "fontSize": 25, "fontWeight": "bold", "color": "#ffffff", "align": "center", "baseline": "middle", "clip": false, "dy": -2},
          "encoding": {
            "x": {"field": "e", "type": "quantitative"},
            "y": {"field": "v", "type": "quantitative"},
            "text": {"field": "t"}
          }
        }
      ]
    },
    {
      "width": 343,
      "height": 279,
      "layer": [
        {
          "data": {"name": "curvesB"},
          "mark": {"type": "line", "strokeWidth": 1.4},
          "encoding": {
            "x": {"field": "e", "type": "quantitative",
                  "scale": {"domain": [390, 410], "nice": false, "zero": false},
                  "axis": {"values": [390, 395, 400, 405, 410], "labelExpr": "datum.value % 10 === 0 ? datum.label : ''",
                           "labelFlush": true, "title": "Binding energy (eV)", "titlePadding": 10}},
            "y": {"field": "v", "type": "quantitative",
                  "scale": {"domain": [0, 1200], "nice": false},
                  "axis": {"values": [0, 200, 400, 600, 800, 1000, 1200],
                           "labelExpr": "datum.value % 400 === 0 ? format(datum.value, ',') : ''",
                           "title": "XPS counts / s", "titlePadding": 0}},
            "color": {"field": "s", "type": "nominal",
                      "scale": {"domain": ["Day 0", "Day 2", "Day 5", "Day 14"], "range": ["#1f2a7c", "#1b8c3e", "#e41f2a", "#111111"]},
                      "legend": null}
          }
        },
        {
          "data": {"name": "labelsB"},
          "mark": {"type": "text", "fontSize": 18, "fontWeight": "bold", "color": "#000", "align": "center", "baseline": "middle"},
          "encoding": {
            "x": {"field": "e", "type": "quantitative"},
            "y": {"field": "v", "type": "quantitative"},
            "text": {"field": "s"}
          }
        },
        {
          "data": {"values": [{"t": "GAPSG", "e": 399.8, "v": 1299}]},
          "mark": {"type": "text", "fontSize": 20, "fontWeight": "bold", "color": "#000", "align": "center", "baseline": "middle", "clip": false},
          "encoding": {
            "x": {"field": "e", "type": "quantitative"},
            "y": {"field": "v", "type": "quantitative"},
            "text": {"field": "t"}
          }
        },
        {
          "data": {"values": [{"t": "b", "e": 386.71, "v": 1310}]},
          "mark": {"type": "point", "shape": "square", "size": 961, "filled": true, "color": "#cc0a0f", "opacity": 1, "strokeWidth": 0, "clip": false},
          "encoding": {
            "x": {"field": "e", "type": "quantitative"},
            "y": {"field": "v", "type": "quantitative"}
          }
        },
        {
          "data": {"values": [{"t": "b", "e": 386.71, "v": 1310}]},
          "mark": {"type": "text", "fontSize": 25, "fontWeight": "bold", "color": "#ffffff", "align": "center", "baseline": "middle", "clip": false, "dy": -1},
          "encoding": {
            "x": {"field": "e", "type": "quantitative"},
            "y": {"field": "v", "type": "quantitative"},
            "text": {"field": "t"}
          }
        }
      ]
    }
  ]
}
